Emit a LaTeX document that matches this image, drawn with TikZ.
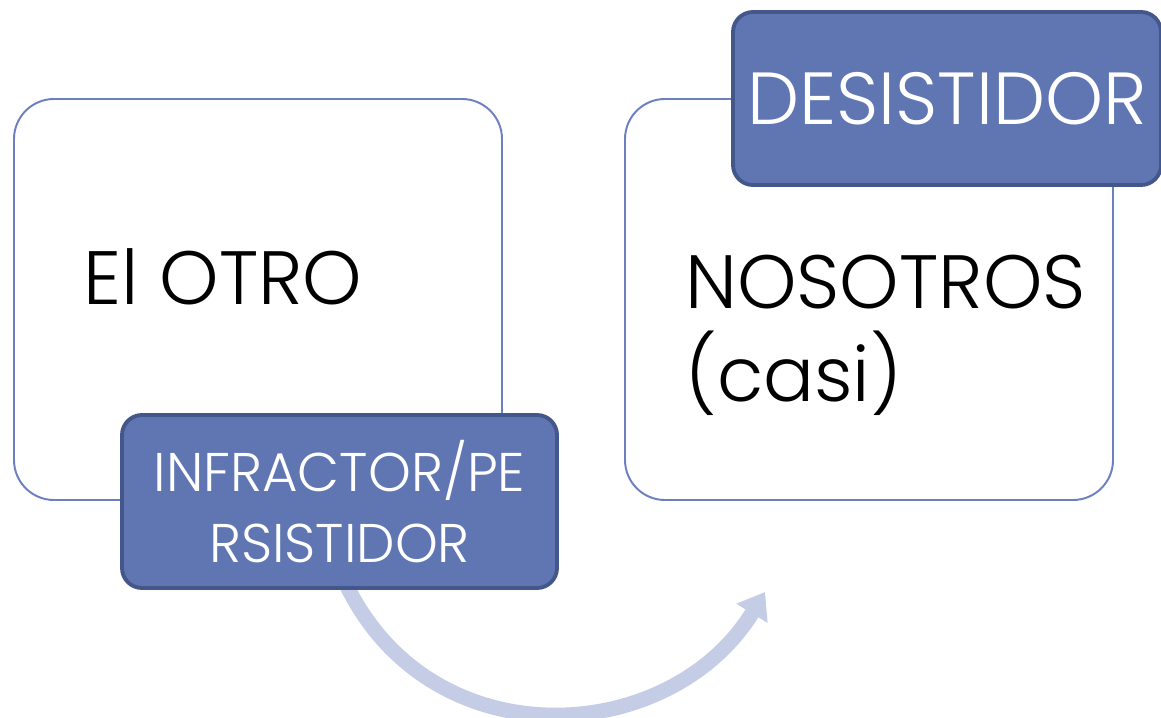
\documentclass[tikz,border=0pt]{standalone}
\usepackage{fontspec}
\setmainfont{Poppins Light}
\usetikzlibrary{arrows.meta}

\definecolor{boxblue}{RGB}{95,118,179}
\definecolor{boxdark}{RGB}{67,87,138}
\definecolor{frameblue}{RGB}{108,127,192}
\definecolor{arrowlav}{RGB}{197,204,230}

\tikzset{
  bigbox/.style={draw=frameblue, line width=1.1pt, fill=white, rounded corners=0.8cm,
    minimum width=9.76cm, minimum height=8.02cm},
  tagbox/.style={draw=boxdark, line width=2.2pt, fill=boxblue, rounded corners=0.4cm,
    text=white, align=center, minimum height=3.46cm},
  bigtext/.style={font=\fontsize{43}{53}\selectfont, align=left},
}

\begin{document}
\begin{tikzpicture}
  \useasboundingbox (0,0) rectangle (23.22,14.34);

  % Arrow
  \coordinate (from) at (6.9,2.7);
  \coordinate (to) at (15.3,2.5);
  \draw[arrowlav, line width=0.3cm, -{Triangle[width=0.7cm,length=0.5cm]}]
    (from) .. controls (8.6,-0.9) and (13.4,-0.6) .. (to);

  % Boxes
  \node[bigbox] (otro) at (5.16,8.35) {};
  \node[bigbox] (nos) at (17.38,8.35) {};

  % Labels
  \node[bigtext, anchor=base west] (otrotxt) at (1.55,8.24) {El OTRO};
  \node[bigtext, anchor=north west, inner sep=0pt] (nostxt) at (13.7,9.25)
    {NOSOTROS\\(casi)};

  % Tags
  \node[tagbox, minimum width=8.7cm, font=\fontsize{31}{40}\selectfont] (infr) at (6.79,4.31)
    {INFRACTOR/PE\\RSISTIDOR};
  \node[tagbox, minimum width=8.56cm, font=\fontsize{42}{50}\selectfont] (des) at (18.94,12.37)
    {DESISTIDOR};
\end{tikzpicture}
\end{document}
